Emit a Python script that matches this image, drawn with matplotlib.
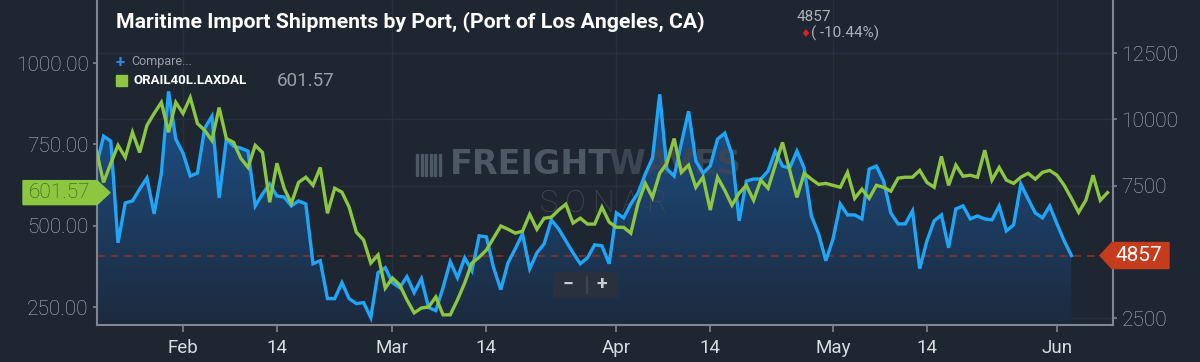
import numpy as np
import pandas as pd
import matplotlib
matplotlib.use('Agg')
import matplotlib.pyplot as plt
from matplotlib import transforms
from matplotlib.colors import LinearSegmentedColormap
from matplotlib.patches import Rectangle, Polygon
import matplotlib.dates as mdates

plt.rcParams['font.family'] = ['Roboto', 'DejaVu Sans']

# maritime import shipments, Port of Los Angeles (right axis, blue)
shipments = [8233, 9361, 9173, 5338, 6842, 6917, 7368, 7782, 6428, 7970, 11053, 9248,
             8722, 7857, 7970, 9662, 10113, 7030, 9248, 8985, 8910, 8797, 6729, 7180,
             7556, 7105, 7067, 6729, 6917, 6804, 4548, 4661, 3232, 3232, 3834, 3232,
             3044, 3082, 2518, 4210, 4398, 3834, 3646, 4059, 3458, 3984, 2894, 2781,
             3646, 4623, 4022, 4774, 4285, 5601, 5563, 4398, 3570, 4586, 5112, 5676,
             4360, 4962, 5300, 6202, 5864, 5413, 4962, 4548, 4774, 5262, 5225,
             4548, 6466, 6278, 6804, 7218, 7932, 8534, 10940, 8120, 7857, 9098, 10301,
             8421, 7970, 8233, 9248, 9474, 8684, 6165, 7669, 7744, 7744, 8045, 8797,
             8233, 8158, 8797, 8158, 6353, 5676, 4661, 5488, 6804, 6390, 6390, 6240,
             8120, 8233, 7669, 6466, 6052, 6052, 6541, 4360, 5413, 6165, 6390, 5150,
             6616, 6729, 6240, 6353, 6240, 6202, 6729, 5789, 6014, 7556, 6992, 6466,
             6278, 6729, 6052, 5413, 4857]

# ORAIL40L.LAXDAL (left axis, green)
orail = [732, 633, 692, 747, 710, 787, 725, 808, 845, 879, 787, 879, 845, 894, 814, 793,
         762, 863, 768, 756, 707, 679, 747, 725,
         572, 692, 615, 569, 633, 649, 624, 679, 538, 615, 603, 557, 480, 456, 385, 410,
         308, 339, 318, 272, 232, 247, 250, 281,
         226, 226, 272, 324, 385, 403, 425, 462, 499, 489, 477, 483, 535, 489, 523, 526,
         548, 566, 508, 523, 505, 505, 557,
         511, 495, 495, 477, 569, 630, 587, 661, 692, 768, 664, 686, 618, 649, 548, 649,
         609, 563, 600, 624, 578, 640, 615, 686,
         756, 670, 587, 661, 643, 627, 630, 624, 618, 664, 584, 612, 584, 624, 618, 606,
         646, 649, 649, 670, 633, 618, 713, 624, 686, 652, 655, 649, 732, 640, 679, 640,
         630, 649, 661, 643, 664, 670, 655, 624, 584, 541, 578, 655, 578, 601.57]

start = '2020-01-20'
ship_dates = pd.date_range(start, periods=len(shipments), freq='D')
orail_dates = pd.date_range(start, periods=len(orail), freq='D')

tick_dates = pd.to_datetime(['2020-02-01', '2020-02-14', '2020-03-01', '2020-03-14', '2020-04-01',
                             '2020-04-14', '2020-05-01', '2020-05-14', '2020-06-01'])
tick_labels = ['Feb', '14', 'Mar', '14', 'Apr', '14', 'May', '14', 'Jun']
month_starts = pd.to_datetime(['2020-02-01', '2020-03-01', '2020-04-01', '2020-05-01', '2020-06-01'])
left_ticks = [250, 500, 750, 1000]
right_ticks = [2500, 7500, 10000, 12500]   # 5000 sits under the last-value flag
last_ship = 4857
last_orail = 601.57
change_pct = -10.44
title = 'Maritime Import Shipments by Port, (Port of Los Angeles, CA)'

BG = '#1e2632'
BLUE = '#20a6f8'
GREEN = '#8dc641'
AXC = '#7f8690'

fig = plt.figure(figsize=(12, 3.62), dpi=100, facecolor=BG)
px = transforms.Affine2D().scale(1 / 1200, -1 / 362).translate(0, 1) + fig.transFigure

ax1 = fig.add_axes([97 / 1200, 37 / 362, 1016 / 1200, 325 / 362])
ax1.set_facecolor(BG)
ax2 = ax1.twinx()
x0 = pd.Timestamp('2020-02-01') - pd.Timedelta(days=11.91)
x1 = pd.Timestamp('2020-06-01') + pd.Timedelta(days=7.76)
ylo1, yhi1 = 2236, 14500

# blue area with vertical gradient
fb = ax1.fill_between(ship_dates, shipments, ylo1, color='none', lw=0)
grad = np.linspace(0, 1, 256).reshape(-1, 1)
cmap = LinearSegmentedColormap.from_list('fillg', ['#1c2a3e', '#1d528a'])
im = ax1.imshow(grad, aspect='auto', cmap=cmap, origin='lower', zorder=1,
                extent=[mdates.date2num(ship_dates[0]), mdates.date2num(ship_dates[-1]), ylo1, 11000])
im.set_clip_path(fb.get_paths()[0], transform=ax1.transData)
ax1.set_xlim(x0, x1)
ax1.set_ylim(ylo1, yhi1)

ax1.plot(ship_dates, shipments, color=BLUE, lw=2.4, zorder=3, solid_joinstyle='miter')
ax1.axhline(last_ship, color='#8e3326', lw=1.1, ls=(0, (5, 4)), zorder=2)

for d in month_starts:
    ax1.axvline(d, color='#27313e', lw=1, zorder=0.5)
for v in right_ticks:
    ax1.axhline(v, color='#27313e', lw=1, zorder=0.5)

ax1.yaxis.tick_right()
ax1.set_yticks(right_ticks)
ax1.set_yticklabels([str(v) for v in right_ticks])
ax1.set_xticks(tick_dates)
ax1.set_xticklabels(tick_labels)
ax1.tick_params(axis='x', colors=AXC, labelcolor='#d8dbe0', length=5, width=1.2, pad=5, labelsize=13.5)
ax1.tick_params(axis='y', colors=AXC, labelcolor='#b4b9c0', length=3, width=1.2, pad=3, labelsize=15)
for lab in ax1.get_yticklabels():
    lab.set_fontweight('light')
for s in ['top', 'left']:
    ax1.spines[s].set_visible(False)
for s in ['bottom', 'right']:
    ax1.spines[s].set_color(AXC)
    ax1.spines[s].set_linewidth(1.5)

# watermark
ax1.text(450, 165, 'FREIGHT', transform=px, color='#4d5865', fontsize=24, fontweight='bold',
         family='DejaVu Sans', ha='left', va='center', zorder=2)
ax1.text(609, 165, 'WAVES', transform=px, color='#3c4653', fontsize=24, fontweight='bold',
         family='DejaVu Sans', ha='left', va='center', zorder=2)
ax1.text(604, 203, 'S O N A R', transform=px, color='#414a56', fontsize=22, fontweight='light',
         ha='center', va='center', zorder=2)
for k in range(6):
    ax1.add_patch(Rectangle((416 + k * 4.5, 154), 2, 22, transform=px, color='#4d5865', zorder=2))

# green series on the left axis
ax2.set_ylim(194.7, 1193.7)
ax2.plot(orail_dates, orail, color=GREEN, lw=2.4, zorder=3, solid_joinstyle='miter')
ax2.yaxis.tick_left()
ax2.set_yticks(left_ticks)
ax2.set_yticklabels([f'{v:.2f}' for v in left_ticks])
ax2.tick_params(axis='y', colors=AXC, labelcolor='#b4b9c0', length=3, width=1.2, pad=3, labelsize=15)
for lab in ax2.get_yticklabels():
    lab.set_fontweight('light')
for s in ['top', 'right', 'bottom']:
    ax2.spines[s].set_visible(False)
ax2.spines['left'].set_color(AXC)
ax2.spines['left'].set_linewidth(1.5)

# value flags
yg = 362 - ax2.transData.transform((0, last_orail))[1]
ax2.add_patch(Polygon([(23, yg - 12), (97, yg - 12), (110, yg), (97, yg + 12), (23, yg + 12)],
                      closed=True, transform=px, color=GREEN, clip_on=False, zorder=5))
ax2.text(60, yg, f'{last_orail:.2f}', transform=px, color='#2e5a12', fontsize=15,
         fontweight='light', ha='center', va='center', zorder=6)

yb = 362 - ax1.transData.transform((0, last_ship))[1]
ax2.add_patch(Polygon([(1100, yb), (1112, yb - 13), (1169, yb - 13), (1169, yb + 13), (1112, yb + 13)],
                      closed=True, transform=px, color='#c43c1c', clip_on=False, zorder=5))
ax2.text(1139, yb, str(last_ship), transform=px, color='white', fontsize=15,
         ha='center', va='center', zorder=6)

# header and legend
fig.text(116, 22, title, transform=px, color='white', fontsize=15.3, fontweight='bold',
         ha='left', va='center')
fig.text(797, 17, str(last_ship), transform=px, color='#aeb3ba', fontsize=11, ha='left', va='center')
fig.text(800, 34, '\u2666', transform=px, color='#e8192c', fontsize=8, family='DejaVu Sans',
         ha='left', va='center')
fig.text(811, 33, f'( {change_pct:.2f}%)', transform=px, color='#aeb3ba', fontsize=11,
         ha='left', va='center')
fig.text(116, 62, '+', transform=px, color='#2b8ae8', fontsize=12, fontweight='bold', ha='left', va='center')
fig.text(131, 62, 'Compare...', transform=px, color='#9aa0a8', fontsize=9, ha='left', va='center')
fig.patches.append(Rectangle((116, 75), 11, 11, transform=px, color=GREEN))
fig.text(133, 80.5, 'ORAIL40L.LAXDAL', transform=px, color='white', fontsize=9.5,
         fontweight='bold', ha='left', va='center')
fig.text(277, 80.5, f'{last_orail:.2f}', transform=px, color='#9aa0a8', fontsize=13.5,
         ha='left', va='center')

# zoom control
fig.patches.append(Rectangle((553, 272), 64, 25, transform=px, color='#29313c'))
fig.patches.append(Rectangle((586, 276), 1, 17, transform=px, color='#3b4451'))
fig.text(568, 284.5, '\u2212', transform=px, color='#c9cdd3', fontsize=14, fontweight='bold',
         ha='center', va='center')
fig.text(602, 284.5, '+', transform=px, color='#c9cdd3', fontsize=14, fontweight='bold',
         ha='center', va='center')

fig.savefig('out.png', dpi=100, facecolor=BG)
